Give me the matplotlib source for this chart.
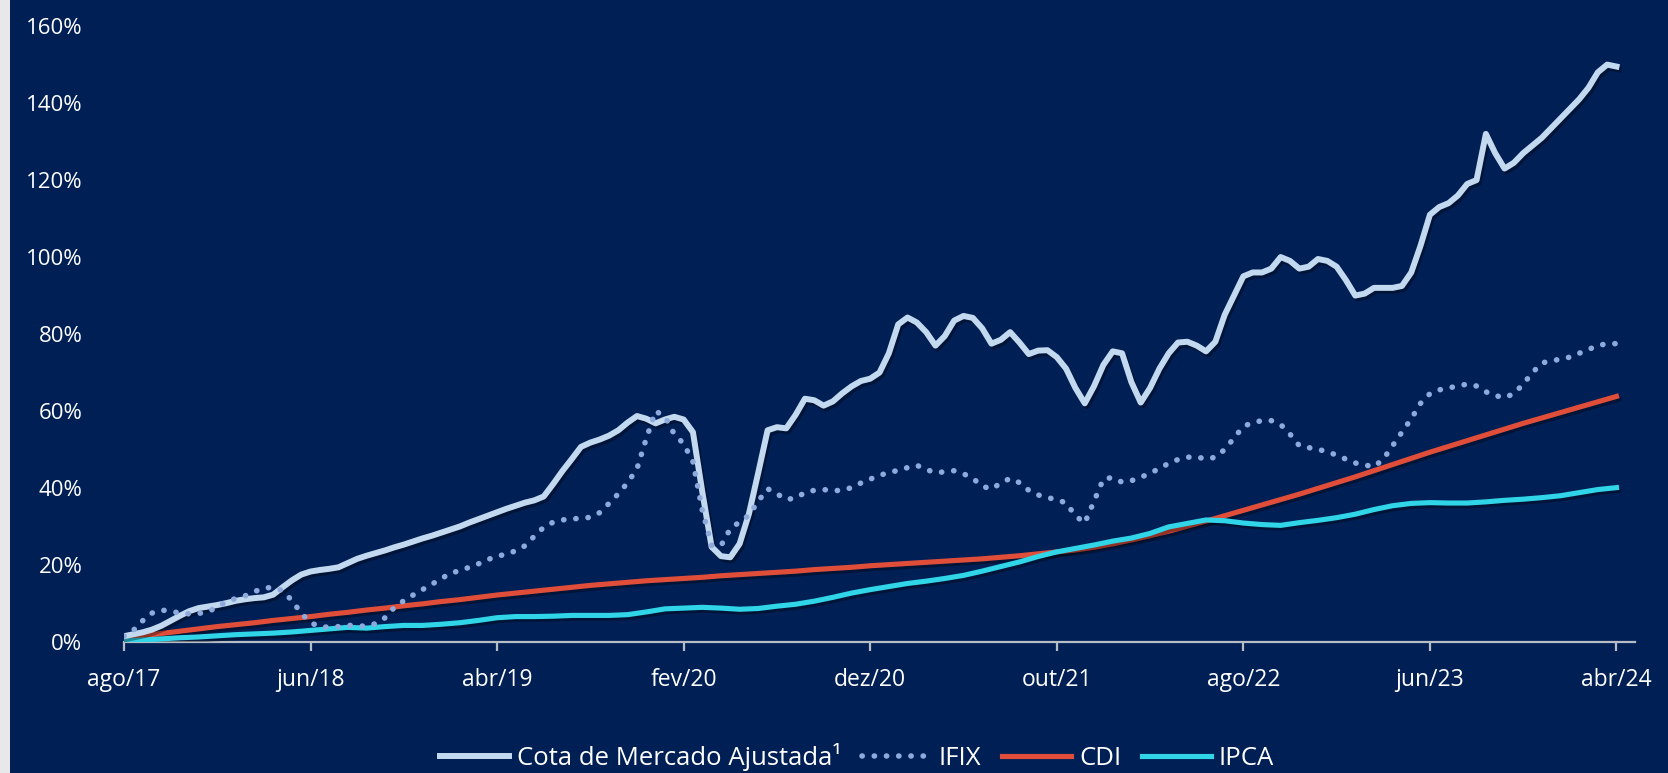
import matplotlib.pyplot as plt
import matplotlib.patheffects as pe
from matplotlib.patches import Rectangle

# month labels ago/17 .. abr/24
month_names = ['jan', 'fev', 'mar', 'abr', 'mai', 'jun', 'jul', 'ago', 'set', 'out', 'nov', 'dez']
months = []
for i in range(81):
    m = (7 + i) % 12
    y = 17 + (7 + i) // 12
    months.append(f'{month_names[m]}/{y}')

# values in %; cota and ifix every half month, cdi and ipca monthly
cota = [1.5, 2, 2.5, 3.2, 4.2, 5.5, 6.8, 8, 8.8, 9.2,
        9.6, 10.1, 10.7, 11.1, 11.4, 11.6, 12.3, 14.2, 16, 17.5,
        18.3, 18.7, 19.0, 19.4, 20.5, 21.6, 22.4, 23.1, 23.8, 24.6,
        25.3, 26.1, 26.9, 27.6, 28.4, 29.2, 30.0, 31.0, 31.9, 32.8,
        33.7, 34.6, 35.4, 36.2, 36.8, 37.8, 41, 44.4, 47.5, 50.7,
        51.8, 52.6, 53.6, 55, 57, 58.7, 58, 56.8, 57.8, 58.5,
        57.8, 54.5, 39, 24.7, 22.3, 22, 25.5, 33.3, 44, 55,
        55.8, 55.5, 59, 63.2, 62.8, 61.4, 62.5, 64.6, 66.4, 67.8,
        68.4, 70, 75, 82.5, 84.3, 83, 80.5, 77, 79.5, 83.5,
        84.7, 84.2, 81.5, 77.5, 78.5, 80.5, 77.8, 74.8, 75.7, 75.8,
        74, 71, 66, 62, 66.5, 72, 75.5, 75, 67.5, 62.2,
        66, 71, 75, 77.8, 78, 77, 75.5, 78, 85, 90,
        95, 96, 96, 97, 100, 99, 97, 97.5, 99.5, 99,
        97.5, 94, 90, 90.5, 92, 92, 92, 92.5, 96, 103,
        111, 113, 114, 116, 119, 120, 132, 127, 123, 124.5,
        127, 129, 131, 133.5, 136, 138.5, 141, 144, 148, 150,
        149.5]

ifix = [1.5, 3, 5.5, 7.5, 8.3, 8, 7.5, 7.3, 7.4, 7.9,
        9, 10.5, 11.3, 12, 13.1, 14, 14.2, 13.3, 10.8, 7.5,
        5, 4, 3.8, 4, 4.3, 4.3, 4, 4.8, 6.3, 9,
        10.7, 12.2, 13.6, 15, 16.4, 17.9, 18.5, 19.4, 20.3, 21.4,
        22.3, 22.8, 23.7, 25, 27.5, 29.8, 31.1, 31.7, 32, 32.1,
        32.4, 33.6, 36, 38.5, 41.4, 45, 52.9, 60, 58.5, 54,
        51.5, 46.8, 34.2, 25.1, 25, 29.4, 31.2, 32.9, 36.6, 39.8,
        38.5, 37, 37.4, 38.8, 39.4, 39.6, 39.3, 39.4, 40.1, 41.3,
        42.3, 43.3, 44, 44.6, 45.3, 45.9, 44.8, 44, 44.2, 44.5,
        43.7, 42.5, 40.5, 39.7, 41.3, 42.5, 41.4, 39.4, 38.2, 37.5,
        37, 36.1, 32.8, 30.9, 36.6, 42.4, 42.7, 41.5, 41.9, 42.8,
        43.8, 45.1, 46.4, 47.4, 48, 48.1, 47.5, 48, 50, 53,
        56, 57, 57.5, 57.5, 56.5, 54, 51, 50.5, 50, 49.5,
        48.5, 47.5, 46.5, 46, 45.5, 47.5, 51, 54.5, 58, 62,
        64.5, 65.5, 66, 66.5, 67, 66.5, 65, 64, 63.5, 64.5,
        67, 70, 72.5, 73, 73.5, 74, 75, 76, 77, 77.5,
        77.5]

cdi = [1.0, 1.6, 2.2, 2.8, 3.4, 4.0, 4.5, 5.0, 5.6, 6.1,
       6.6, 7.2, 7.7, 8.3, 8.8, 9.4, 9.9, 10.5, 11.0, 11.6,
       12.2, 12.7, 13.2, 13.7, 14.2, 14.7, 15.1, 15.5, 15.9, 16.2,
       16.5, 16.8, 17.2, 17.5, 17.8, 18.1, 18.4, 18.8, 19.1, 19.4,
       19.8, 20.1, 20.4, 20.7, 21.0, 21.3, 21.6, 22.0, 22.4, 22.9,
       23.4, 23.9, 24.6, 25.5, 26.5, 27.6, 28.8, 30.1, 31.4, 32.8,
       34.2, 35.6, 37.0, 38.4, 39.9, 41.4, 42.9, 44.5, 46.1, 47.7,
       49.3, 50.8, 52.3, 53.8, 55.3, 56.8, 58.2, 59.6, 61.0, 62.4,
       63.8]

ipca = [0.3, 0.5, 0.8, 1.1, 1.3, 1.6, 1.9, 2.1, 2.3, 2.6,
        3.0, 3.4, 3.8, 3.6, 4.0, 4.3, 4.3, 4.6, 5.0, 5.6,
        6.3, 6.6, 6.6, 6.7, 6.9, 6.9, 6.9, 7.1, 7.8, 8.6,
        8.8, 9.0, 8.8, 8.5, 8.7, 9.3, 9.8, 10.6, 11.6, 12.7,
        13.6, 14.4, 15.2, 15.8, 16.5, 17.3, 18.4, 19.6, 20.8, 22.2,
        23.4, 24.3, 25.2, 26.2, 27.0, 28.2, 29.9, 30.8, 31.7, 31.5,
        30.9, 30.5, 30.3, 31.0, 31.6, 32.3, 33.2, 34.4, 35.4, 36.0,
        36.2, 36.1, 36.1, 36.4, 36.8, 37.1, 37.5, 38.0, 38.8, 39.6,
        40.1]

y_ticks = [0, 20, 40, 60, 80, 100, 120, 140, 160]

navy = '#001f55'
plt.rcParams['font.family'] = ['Open Sans', 'DejaVu Sans']

fig = plt.figure(figsize=(16.68, 7.73), dpi=100, facecolor=navy)
# thin light strip on the left edge
fig.patches.append(Rectangle((0, 0), 10 / 1668, 1, transform=fig.transFigure,
                             facecolor='#e8e8ea', edgecolor='none'))
ax = fig.add_axes([0.0743, 0.1695, 0.906, 0.7967])
ax.set_facecolor(navy)

x = list(range(len(months)))
x_half = [i / 2 for i in range(len(cota))]
shadow = [pe.SimpleLineShadow(offset=(1.5, -2), shadow_color='black', alpha=0.35), pe.Normal()]

ax.plot(x, cdi, color='#e04e3a', lw=3.7, label='CDI', path_effects=shadow, zorder=3)
ax.plot(x, ipca, color='#30d5e8', lw=3.7, label='IPCA', path_effects=shadow, zorder=4)
ax.plot(x_half, cota, color='#c3d9f0', lw=4.3, label='Cota de Mercado Ajustada¹',
        path_effects=shadow, zorder=5, solid_joinstyle='round')
ax.plot(x_half, ifix, color='#8eaadc', lw=4.0, linestyle=(0, (0.05, 2.15)),
        dash_capstyle='round', label='IFIX', zorder=6)

ax.set_xlim(0, 81)
ax.set_ylim(0, 160)
ax.set_xticks(x[::10])
ax.set_xticklabels(months[::10])
ax.set_yticks(y_ticks)
ax.set_yticklabels([f'{v}%' for v in y_ticks])

for side in ['top', 'right', 'left']:
    ax.spines[side].set_visible(False)
ax.spines['bottom'].set_color('#b8bcc6')
ax.spines['bottom'].set_linewidth(1.6)
ax.tick_params(axis='x', colors='#b8bcc6', width=1.6, length=6.5, pad=12,
               labelcolor='white', labelsize=16.5)
ax.tick_params(axis='y', length=0, pad=30, labelcolor='white', labelsize=16)

# legend in the order of the reference
handles, labels = ax.get_legend_handles_labels()
order = [2, 3, 0, 1]
leg = fig.legend([handles[i] for i in order], [labels[i] for i in order],
                 loc='center', bbox_to_anchor=(857 / 1668, 1 - 757 / 773), ncol=4,
                 frameon=False, fontsize=18.5, labelcolor='white',
                 handlelength=2.7, handletextpad=0.3, columnspacing=0.8)
for line in leg.get_lines():
    line.set_path_effects([])

fig.savefig('out.png', dpi=100, facecolor=navy)
